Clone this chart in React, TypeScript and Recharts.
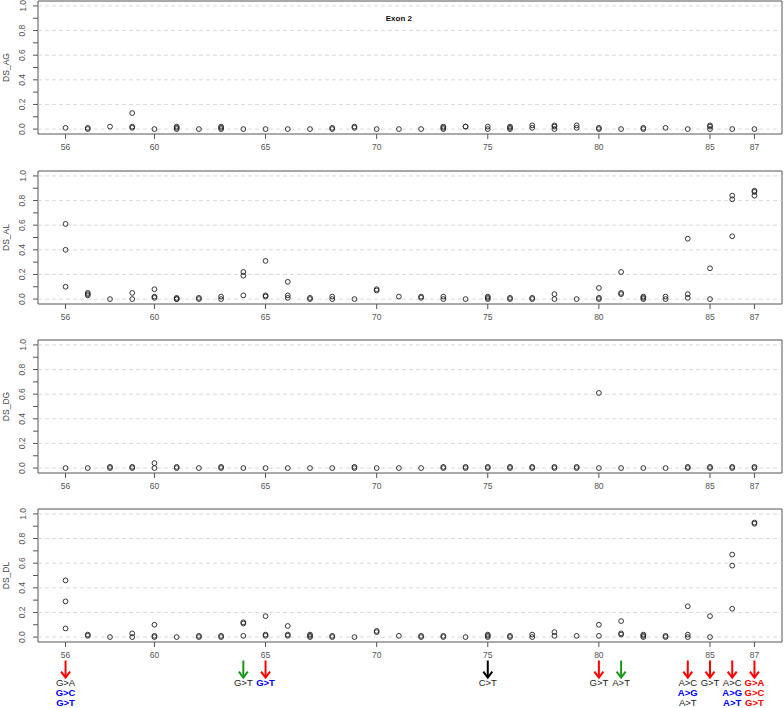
import React from 'react';
import { ScatterChart, Scatter, XAxis, YAxis, ReferenceLine, ReferenceArea, ReferenceDot } from 'recharts';

// positions along exon 2
const positions = [56, 57, 58, 59, 60, 61, 62, 63, 64, 65, 66, 67, 68, 69, 70, 71, 72, 73, 74, 75, 76, 77, 78, 79, 80, 81, 82, 83, 84, 85, 86, 87];
const xTicks = [56, 60, 65, 70, 75, 80, 85, 87];
const yTicks = [0, 0.1, 0.2, 0.3, 0.4, 0.5, 0.6, 0.7, 0.8, 0.9, 1.0];
const gridValues = [0, 0.2, 0.4, 0.6, 0.8, 1.0];

// delta scores per position (one entry per alternative allele)
const dsAG: number[][] = [
  [0.01], [0.01, 0.0], [0.02], [0.13, 0.02, 0.01], [0.0], [0.02, 0.01, 0.0], [0.0], [0.02, 0.01, 0.0],
  [0.0], [0.0], [0.0], [0.0], [0.01, 0.0], [0.02, 0.01], [0.0], [0.0],
  [0.0], [0.02, 0.01, 0.0], [0.02, 0.02], [0.02, 0.0], [0.02, 0.01, 0.0], [0.03, 0.01], [0.03, 0.02, 0.0], [0.03, 0.01],
  [0.01, 0.0], [0.0], [0.01, 0.0], [0.01], [0.0], [0.03, 0.02, 0.0], [0.0], [0.0],
];
const dsAL: number[][] = [
  [0.61, 0.4, 0.1], [0.05, 0.04, 0.03], [0.0], [0.05, 0.0], [0.08, 0.02, 0.01], [0.01, 0.0, 0.0], [0.01, 0.0], [0.02, 0.0],
  [0.22, 0.19, 0.03], [0.31, 0.03, 0.02], [0.14, 0.03, 0.01], [0.01, 0.0], [0.02, 0.0], [0.0], [0.08, 0.07], [0.02],
  [0.02, 0.01], [0.02, 0.0], [0.0], [0.02, 0.01, 0.0], [0.01, 0.0], [0.01, 0.0], [0.04, 0.0], [0.0],
  [0.09, 0.01, 0.0], [0.22, 0.05, 0.04], [0.02, 0.01, 0.0], [0.02, 0.0], [0.49, 0.04, 0.01], [0.25, 0.0], [0.84, 0.81, 0.51], [0.88, 0.87, 0.84],
];
const dsDG: number[][] = [
  [0.0], [0.0], [0.01, 0.0], [0.01, 0.0], [0.04, 0.0], [0.01, 0.0], [0.0], [0.01, 0.0],
  [0.0], [0.0], [0.0], [0.0], [0.0], [0.01, 0.0], [0.0], [0.0],
  [0.0], [0.01, 0.0], [0.01, 0.0], [0.01, 0.0], [0.01, 0.0], [0.01, 0.0], [0.01, 0.0], [0.01, 0.0],
  [0.61, 0.0], [0.0], [0.0], [0.0], [0.01, 0.0], [0.01, 0.0], [0.01, 0.0], [0.01, 0.0],
];
const dsDL: number[][] = [
  [0.46, 0.29, 0.07], [0.02, 0.01], [0.0], [0.03, 0.0], [0.1, 0.01, 0.0], [0.0], [0.01, 0.0], [0.01, 0.0],
  [0.12, 0.11, 0.01], [0.17, 0.02, 0.01], [0.09, 0.02, 0.01], [0.02, 0.01, 0.0], [0.01, 0.0], [0.0], [0.05, 0.04], [0.01],
  [0.01, 0.0], [0.01, 0.0], [0.0], [0.02, 0.01, 0.0], [0.01, 0.0], [0.02, 0.0], [0.04, 0.01], [0.01],
  [0.1, 0.01], [0.13, 0.03, 0.02], [0.02, 0.01, 0.0], [0.01, 0.0], [0.25, 0.02, 0.0], [0.17, 0.0], [0.67, 0.58, 0.23], [0.93, 0.92],
];

const panelNames = ['DS_AG', 'DS_AL', 'DS_DG', 'DS_DL'];
const panelValues = [dsAG, dsAL, dsDG, dsDL];

// variant annotations under the last panel
const annPositions = [56, 64, 65, 75, 80, 81, 84, 85, 86, 87];
const annArrowKind = ['red', 'green', 'red', 'black', 'red', 'green', 'red', 'red', 'red', 'red'];
const annLabels = [
  ['G>A', 'G>C', 'G>T'], ['G>T'], ['G>T'], ['C>T'], ['G>T'], ['A>T'],
  ['A>C', 'A>G', 'A>T'], ['G>T'], ['A>C', 'A>G', 'A>T'], ['G>A', 'G>C', 'G>T'],
];
const annLabelKind = [
  ['plain', 'blue', 'blue'], ['plain'], ['blue'], ['plain'], ['plain'], ['plain'],
  ['plain', 'blue', 'plain'], ['plain'], ['plain', 'blue', 'blue'], ['red', 'red', 'red'],
];

const title = 'Exon 2';
const titleX = 71;
const titleY = 0.9;

const FONT = 'Liberation Sans, Arial, Helvetica, sans-serif';
const X_DOMAIN: [number, number] = [54.76, 88.24];
const Y_DOMAIN: [number, number] = [-0.04, 1.04];

const arrowColors: Record<string, string> = { red: '#ff0000', green: '#1a9a1a', black: '#000000' };
const labelStyles: Record<string, { fill: string; weight: string }> = {
  plain: { fill: '#222222', weight: 'normal' },
  blue: { fill: '#0000ff', weight: 'bold' },
  red: { fill: '#ff0000', weight: 'bold' },
};

function toPoints(values: number[][]) {
  return positions.flatMap((p, i) => values[i].map((v) => ({ x: p, y: v })));
}

const annAnchors = annPositions.map((p) => ({ x: p, y: 0 }));

const OpenCircle = (props: any) => {
  if (props.cx == null || props.cy == null) return <g />;
  return <circle cx={props.cx} cy={props.cy} r={2.4} fill="none" stroke="#222" strokeWidth={0.9} />;
};

const Nothing = () => <g />;

const YTick = (props: any) => {
  const { y, payload } = props;
  const v = payload.value as number;
  if (Math.round(v * 10) % 2 !== 0) return <g />;
  return (
    <text x={25.5} y={y} transform={`rotate(-90 25.5 ${y})`} textAnchor="middle" fontSize={8.5} fill="#555" fontFamily={FONT}>
      {v.toFixed(1)}
    </text>
  );
};

const AnnTick = (props: any) => {
  const { x, y, payload } = props;
  const idx = annPositions.indexOf(payload.value);
  if (idx < 0) return <g />;
  const col = arrowColors[annArrowKind[idx]];
  const tipY = y + 5.7;
  return (
    <g>
      <line x1={x} y1={y - 11.5} x2={x} y2={tipY} stroke={col} strokeWidth={2} />
      <polyline points={`${x - 4.5},${tipY - 6} ${x},${tipY} ${x + 4.5},${tipY - 6}`} fill="none" stroke={col} strokeWidth={2} />
      {annLabels[idx].map((t, j) => {
        const st = labelStyles[annLabelKind[idx][j]];
        return (
          <text key={j} x={x} y={y + 14.4 + j * 10} textAnchor="middle" fontSize={9.5} fill={st.fill} fontWeight={st.weight} fontFamily={FONT}>
            {t}
          </text>
        );
      })}
    </g>
  );
};

function Panel({ index }: { index: number }) {
  const last = index === 3;
  const name = panelNames[index];
  const data = toPoints(panelValues[index]);
  const labelY = 1 + 133 / 2;
  return (
    <ScatterChart width={784} height={last ? 200 : 170} margin={{ top: 1, right: 2, bottom: last ? 0 : 6, left: 0 }}>
      <XAxis
        type="number"
        dataKey="x"
        domain={X_DOMAIN}
        allowDataOverflow
        ticks={xTicks}
        interval={0}
        height={30}
        axisLine={false}
        tickLine={{ stroke: '#555' }}
        tickSize={5}
        tickMargin={5}
        tick={{ fill: '#555', fontSize: 8.5, fontFamily: FONT }}
      />
      {last && (
        <XAxis
          xAxisId="ann"
          type="number"
          dataKey="x"
          domain={X_DOMAIN}
          allowDataOverflow
          ticks={annPositions}
          interval={0}
          height={36}
          axisLine={false}
          tickLine={false}
          tickSize={0}
          tickMargin={0}
          tick={<AnnTick />}
        />
      )}
      <YAxis
        type="number"
        dataKey="y"
        domain={Y_DOMAIN}
        allowDataOverflow
        ticks={yTicks}
        interval={0}
        width={38}
        axisLine={false}
        tickLine={{ stroke: '#555' }}
        tickSize={5}
        tick={<YTick />}
      />
      {gridValues.map((g) => (
        <ReferenceLine key={g} y={g} stroke="#cfcfcf" strokeDasharray="4 3" strokeWidth={0.8} />
      ))}
      <ReferenceArea x1={X_DOMAIN[0]} x2={X_DOMAIN[1]} y1={Y_DOMAIN[0]} y2={Y_DOMAIN[1]} fill="none" stroke="#555" strokeWidth={1} ifOverflow="visible" />
      {index === 0 && (
        <ReferenceDot
          x={titleX}
          y={titleY}
          r={0}
          fill="none"
          stroke="none"
          label={{ value: title, position: 'center', fontSize: 8, fontWeight: 'bold', fill: '#111', fontFamily: FONT }}
        />
      )}
      <Scatter data={data} shape={<OpenCircle />} isAnimationActive={false} />
      {last && <Scatter xAxisId="ann" data={annAnchors} shape={<Nothing />} isAnimationActive={false} />}
      <text x={8.5} y={labelY} transform={`rotate(-90 8.5 ${labelY})`} textAnchor="middle" fontSize={8.5} fill="#444" fontFamily={FONT}>
        {name}
      </text>
    </ScatterChart>
  );
}

const panelTops = [0, 170, 339, 508];

export default function App() {
  return (
    <div style={{ position: 'absolute', top: 0, left: 0, width: 784, height: 708, background: '#fff', fontFamily: FONT }}>
      {panelTops.map((top, i) => (
        <div key={i} style={{ position: 'absolute', top, left: 0 }}>
          <Panel index={i} />
        </div>
      ))}
    </div>
  );
}
